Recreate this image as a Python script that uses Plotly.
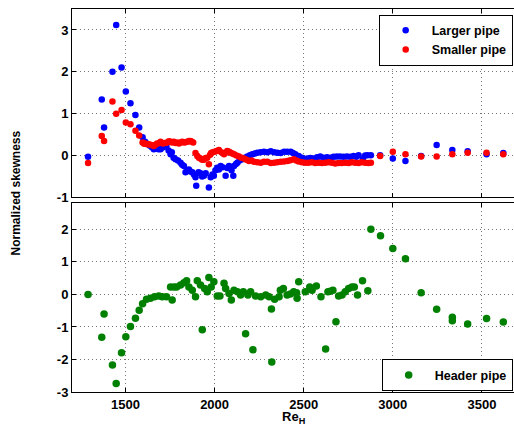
import plotly.graph_objects as go

# ---------------- data ----------------
larger_x = [1290, 1367, 1380, 1427, 1448, 1478, 1502, 1528, 1556, 1577, 1596, 1610, 1622, 1635, 1648,
            1659, 1672, 1685, 1697, 1712, 1730, 1742, 1753, 1760, 1770, 1781, 1795, 1809, 1818, 1828,
            1837, 1846, 1856, 1865, 1875, 1884, 1893, 1897, 1910, 1921, 1930, 1940, 1950, 1968, 1978,
            1988, 1996, 2005, 2015, 2024, 2034, 2045, 2062, 2071, 2081, 2095, 2105, 2109, 2120, 2128,
            2140, 2156, 2170, 2184, 2198, 2212, 2226, 2240, 2258, 2277, 2296, 2315, 2334, 2352, 2371,
            2390, 2407, 2427, 2440, 2453, 2472, 2490, 2519, 2537, 2556, 2575, 2593, 2612, 2631, 2650,
            2668, 2686, 2705, 2724, 2743, 2762, 2780, 2795, 2808, 2832, 2845, 2858, 2877, 2929, 3000,
            3071, 3159, 3246, 3334, 3420, 3526, 3620]
larger_y = [-0.03, 1.34, 0.67, 2.00, 3.12, 2.10, 1.53, 1.25, 0.97, 0.67, 0.44, 0.33, 0.28, 0.24, 0.20,
            0.15, 0.18, 0.15, 0.15, 0.20, 0.23, 0.12, 0.03, 0.08, -0.05, -0.09, -0.12, -0.17, -0.22, -0.25,
            -0.40, -0.36, -0.33, -0.38, -0.40, -0.45, -0.52, -0.72, -0.40, -0.42, -0.50, -0.48, -0.42, -0.76, -0.52,
            -0.45, -0.48, -0.35, -0.29, -0.33, -0.25, -0.28, -0.48, -0.30, -0.25, -0.35, -0.48, -0.25, -0.20, -0.17,
            -0.12, -0.09, -0.05, -0.02, 0.01, 0.03, 0.05, 0.07, 0.08, 0.09, 0.08, 0.10, 0.08, 0.07, 0.06,
            0.09, 0.09, 0.09, 0.06, 0.03, -0.01, -0.05, -0.07, -0.06, -0.07, -0.04, -0.02, -0.05, -0.04, -0.05,
            -0.03, -0.02, -0.02, -0.03, -0.02, -0.03, -0.01, -0.03, 0.01, -0.09, 0.00, 0.01, 0.01, 0.01, -0.07,
            -0.13, -0.01, 0.25, 0.13, 0.10, 0.03, 0.06]

smaller_x = [1290, 1367, 1380, 1427, 1448, 1478, 1502, 1528, 1556, 1577, 1596, 1605, 1612, 1622, 1631,
             1645, 1659, 1668, 1678, 1690, 1697, 1710, 1722, 1734, 1744, 1753, 1762, 1771, 1781, 1790,
             1800, 1809, 1818, 1828, 1837, 1847, 1856, 1865, 1872, 1880, 1893, 1903, 1912, 1921, 1930,
             1940, 1950, 1959, 1968, 1975, 1981, 1990, 2000, 2012, 2024, 2038, 2053, 2062, 2071, 2081,
             2090, 2100, 2109, 2123, 2137, 2151, 2165, 2179, 2193, 2207, 2221, 2240, 2259, 2277, 2296,
             2315, 2334, 2352, 2371, 2390, 2409, 2425, 2444, 2458, 2472, 2490, 2509, 2527, 2546, 2565,
             2584, 2602, 2621, 2640, 2658, 2677, 2696, 2714, 2733, 2752, 2770, 2789, 2808, 2826, 2845,
             2863, 2877, 2929, 3000, 3071, 3159, 3246, 3334, 3420, 3526, 3620]
smaller_y = [-0.18, 0.47, 0.35, 1.29, 1.00, 1.09, 0.79, 0.75, 0.59, 0.48, 0.31, 0.28, 0.29, 0.27, 0.27,
             0.25, 0.23, 0.26, 0.29, 0.30, 0.33, 0.29, 0.30, 0.31, 0.34, 0.33, 0.31, 0.33, 0.30, 0.31,
             0.29, 0.31, 0.33, 0.31, 0.32, 0.33, 0.35, 0.35, 0.33, 0.31, 0.06, -0.01, -0.05, -0.07, -0.10,
             -0.10, -0.06, -0.05, -0.21, 0.02, 0.06, 0.08, 0.09, 0.11, 0.13, 0.08, 0.03, 0.07, 0.11, 0.09,
             0.07, 0.05, 0.03, 0.00, -0.02, -0.05, -0.07, -0.10, -0.13, -0.12, -0.15, -0.16, -0.17, -0.15, -0.15,
             -0.18, -0.17, -0.16, -0.15, -0.14, -0.13, -0.11, -0.09, -0.12, -0.14, -0.16, -0.17, -0.17, -0.16, -0.18,
             -0.17, -0.18, -0.17, -0.16, -0.17, -0.19, -0.18, -0.18, -0.17, -0.18, -0.16, -0.17, -0.18, -0.16, -0.17,
             -0.18, -0.17, -0.01, 0.09, 0.03, -0.02, -0.02, 0.03, 0.07, 0.07, 0.03]

header_x = [1290, 1367, 1380, 1427, 1448, 1478, 1502, 1528, 1556, 1577, 1596, 1618, 1640, 1663, 1687,
            1706, 1730, 1753, 1762, 1772, 1787, 1809, 1828, 1843, 1856, 1875, 1893, 1903, 1921, 1931,
            1944, 1959, 1968, 1981, 1996, 2015, 2030, 2053, 2062, 2081, 2094, 2109, 2128, 2146, 2161,
            2174, 2187, 2202, 2215, 2230, 2259, 2287, 2306, 2319, 2321, 2337, 2362, 2369, 2386, 2407,
            2425, 2444, 2460, 2463, 2472, 2509, 2534, 2547, 2571, 2597, 2623, 2636, 2649, 2664, 2681,
            2696, 2715, 2733, 2752, 2771, 2784, 2802, 2830, 2860, 2877, 2931, 3000, 3071, 3159, 3246,
            3334, 3334, 3420, 3526, 3620]
header_y = [0.00, -1.32, -0.60, -2.17, -2.74, -1.79, -1.30, -0.99, -0.73, -0.49, -0.29, -0.15, -0.12, -0.07, -0.05,
            -0.07, -0.07, 0.23, -0.17, 0.23, 0.23, 0.29, 0.36, 0.42, 0.23, 0.13, -0.07, 0.42, 0.29, -1.09,
            0.18, 0.08, 0.52, 0.23, 0.39, -0.05, -0.05, 0.34, 0.18, 0.03, -0.17, 0.13, 0.08, -0.02, 0.08,
            -1.21, -0.02, 0.08, -1.70, -0.05, -0.07, -0.02, -0.07, -0.45, -2.08, -0.15, -0.07, 0.13, 0.18, -0.02,
            0.01, 0.08, 0.05, -0.12, 0.39, 0.08, 0.23, 0.13, 0.26, -0.07, -1.68, 0.08, 0.10, 0.13, -0.84,
            -0.05, -0.02, 0.08, 0.18, 0.23, 0.23, -0.02, 0.42, 0.11, 2.00, 1.80, 1.41, 1.10, 0.05, -0.46,
            -0.70, -0.81, -0.91, -0.74, -0.85]

x_ticks = [1500, 2000, 2500, 3000, 3500]
top_y_ticks = [-1, 0, 1, 2, 3]
bottom_y_ticks = [-3, -2, -1, 0, 1, 2]

FONT = "Liberation Sans"

fig = go.Figure()
fig.add_trace(go.Scatter(x=larger_x, y=larger_y, mode="markers", name="<b>Larger pipe</b>",
                         marker=dict(color="#0000ff", size=6.5), xaxis="x", yaxis="y", legend="legend"))
fig.add_trace(go.Scatter(x=smaller_x, y=smaller_y, mode="markers", name="<b>Smaller pipe</b>",
                         marker=dict(color="#ff0000", size=6.5), xaxis="x", yaxis="y", legend="legend"))
fig.add_trace(go.Scatter(x=header_x, y=header_y, mode="markers", name="<b>Header pipe</b>",
                         marker=dict(color="#008000", size=7.5), xaxis="x2", yaxis="y2", legend="legend2"))

GRID = dict(showgrid=True, gridcolor="#777777", griddash="1px,3px", gridwidth=1, zeroline=False)
common_x = dict(range=[1200, 3680], tickvals=x_ticks, showline=True, linecolor="black",
                linewidth=1, mirror="ticks", ticks="inside", ticklen=4, tickcolor="black", **GRID)
common_y = dict(showline=True, linecolor="black", linewidth=1, mirror=False, ticks="inside",
                ticklen=4, tickcolor="black", tickfont=dict(family=FONT, size=13, color="black"), **GRID)

legend_style = dict(xanchor="right", yanchor="top", bgcolor="white", bordercolor="black",
                    borderwidth=1, font=dict(family=FONT, size=12.5, color="black"), itemwidth=42)

fig.update_layout(
    width=514, height=432,
    margin=dict(l=72, r=0, t=9, b=40, autoexpand=False),
    paper_bgcolor="white", plot_bgcolor="white",
    font=dict(family=FONT, size=13, color="black"),
    xaxis=dict(domain=[0, 1], anchor="y", showticklabels=False, **common_x),
    yaxis=dict(domain=[0.508, 1], anchor="x", range=[-1, 3.5], tickvals=top_y_ticks,
               ticktext=[f"<b>{v}</b>" for v in top_y_ticks], **common_y),
    xaxis2=dict(domain=[0, 1], anchor="y2", ticktext=[f"<b>{v}</b>" for v in x_ticks],
                tickfont=dict(family=FONT, size=13, color="black"), **common_x),
    yaxis2=dict(domain=[0, 0.4926], anchor="x2", range=[-3, 2.8], tickvals=bottom_y_ticks,
                ticktext=[f"<b>{v}</b>" for v in bottom_y_ticks], **common_y),
    legend=dict(x=0.997, y=0.985, **legend_style),
    legend2=dict(x=0.997, y=0.085, **legend_style),
    showlegend=True,
    annotations=[
        dict(text="<b>Normalized skewness</b>", textangle=-90, xref="paper", yref="paper",
             x=-0.126, y=0.519, xanchor="center", yanchor="middle", showarrow=False,
             font=dict(family=FONT, size=12, color="black")),
        dict(text="<b>Re<sub>H</sub></b>", xref="paper", yref="paper",
             x=0.5, y=-0.04, xanchor="center", yanchor="top", showarrow=False,
             font=dict(family=FONT, size=13, color="black")),
    ],
)

fig.write_html("out.html")
